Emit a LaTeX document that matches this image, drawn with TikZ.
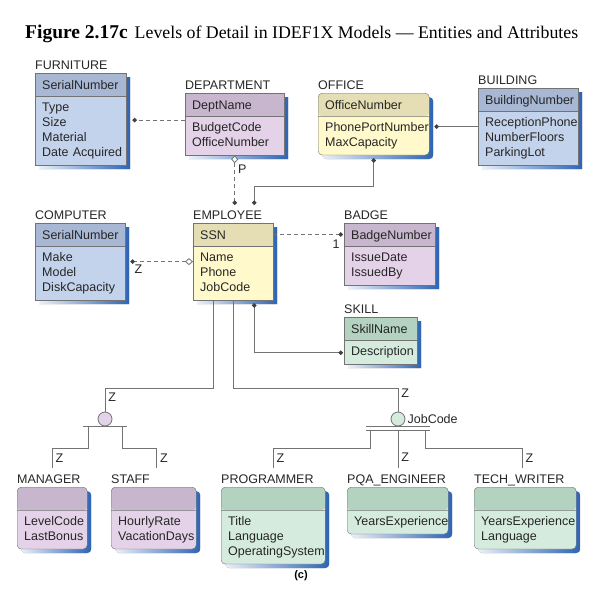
\documentclass[tikz,border=0pt]{standalone}
\usepackage{fontspec}
\setmainfont{Liberation Serif}
\setsansfont{Liberation Sans}
\usetikzlibrary{shapes.multipart,shadows,arrows.meta,positioning,calc}

\definecolor{bluekey}{RGB}{168,184,212}
\definecolor{bluebody}{RGB}{196,211,236}
\definecolor{purpkey}{RGB}{200,182,206}
\definecolor{purpbody}{RGB}{228,210,232}
\definecolor{yelkey}{RGB}{229,222,180}
\definecolor{yelbody}{RGB}{255,249,204}
\definecolor{grnkey}{RGB}{180,210,192}
\definecolor{grnbody}{RGB}{212,235,222}
\definecolor{shadeblue}{RGB}{45,100,180}
\definecolor{linegray}{RGB}{115,115,115}

\newcommand{\erfont}{\sffamily\fontsize{12.5}{15}\selectfont}
\newcommand{\keystrut}{\rule[-2.5pt]{0pt}{15pt}}

\tikzset{
  entity/.style 2 args={rectangle split, rectangle split parts=2, draw=linegray, fill=#2,
    path picture={\fill[#1] (path picture bounding box.north west) rectangle ([yshift=-23pt]path picture bounding box.north east);},
    drop shadow={shadow xshift=4pt, shadow yshift=-4pt, left color=shadeblue!10, right color=shadeblue, opacity=1},
    anchor=north west, inner xsep=7pt, inner ysep=4pt, align=left, font=\erfont, text=black!85},
  blueent/.style={entity={bluekey}{bluebody}},
  purpent/.style={entity={purpkey}{purpbody}},
  yelent/.style={entity={yelkey}{yelbody}},
  grnent/.style={entity={grnkey}{grnbody}},
  dependent/.style={rounded corners=4pt},
  entname/.style={anchor=base west, inner sep=0pt, font=\erfont, text=black!85},
  rel/.style={draw=linegray, line width=0.8pt},
  nonident/.style={rel, dash pattern=on 4pt off 3pt},
  reldot/.tip={Circle[length=4.5pt,color=black!75]},
  hollow/.tip={Diamond[fill=white,length=8pt,width=7pt]},
  zlbl/.style={font=\erfont, text=black!85, inner sep=3pt},
  catsym/.style={circle, draw=linegray, line width=0.8pt, minimum size=14pt, inner sep=0pt}
}

\begin{document}
\begin{tikzpicture}[x=1pt,y=1pt]
\useasboundingbox (0,0) rectangle (603,-600);

\node[anchor=base west, inner sep=0pt] (title) at (25,-38)
  {\fontsize{19.5}{22}\selectfont\bfseries Figure 2.17c\hspace{7pt}\fontsize{17.8}{20}\selectfont\mdseries Levels of Detail in IDEF1X Models --- Entities and Attributes};

% entities
\node[blueent, text width=77pt] (furniture) at (35,-73)
  {\keystrut SerialNumber\nodepart{two}\strut Type\\\strut Size\\\strut Material\\\strut\mbox{Date Acquired}};
\node[entname] (furniturename) at ([yshift=4pt]furniture.north west) {FURNITURE};

\node[purpent, text width=85pt] (department) at (185,-93)
  {\keystrut DeptName\nodepart{two}\strut BudgetCode\\\strut OfficeNumber};
\node[entname] (departmentname) at ([yshift=4pt]department.north west) {DEPARTMENT};

\node[yelent, dependent, text width=97pt] (office) at (318,-93)
  {\keystrut OfficeNumber\nodepart{two}\strut PhonePortNumber\\\strut MaxCapacity};
\node[entname] (officename) at ([yshift=4pt]office.north west) {OFFICE};

\node[blueent, text width=86pt] (building) at (478,-88)
  {\keystrut BuildingNumber\nodepart{two}\strut ReceptionPhone\\\strut NumberFloors\\\strut ParkingLot};
\node[entname] (buildingname) at ([yshift=4pt]building.north west) {BUILDING};

\node[blueent, text width=76pt] (computer) at (35,-223)
  {\keystrut SerialNumber\nodepart{two}\strut Make\\\strut Model\\\strut DiskCapacity};
\node[entname] (computername) at ([yshift=4pt]computer.north west) {COMPUTER};

\node[yelent, text width=66pt] (employee) at (193,-223)
  {\keystrut SSN\nodepart{two}\strut Name\\\strut Phone\\\strut JobCode};
\node[entname] (employeename) at ([yshift=4pt]employee.north west) {EMPLOYEE};

\node[purpent, text width=77pt] (badge) at (344,-223)
  {\keystrut BadgeNumber\nodepart{two}\strut IssueDate\\\strut IssuedBy};
\node[entname] (badgename) at ([yshift=4pt]badge.north west) {BADGE};

\node[grnent, text width=59pt] (skill) at (344,-317)
  {\keystrut SkillName\nodepart{two}\strut Description};
\node[entname] (skillname) at ([yshift=4pt]skill.north west) {SKILL};

\node[purpent, dependent, text width=56pt] (manager) at (17,-487)
  {\keystrut\nodepart{two}\strut LevelCode\\\strut LastBonus};
\node[entname] (managername) at ([yshift=4pt]manager.north west) {MANAGER};

\node[purpent, dependent, text width=71pt] (staff) at (111,-487)
  {\keystrut\nodepart{two}\strut HourlyRate\\\strut VacationDays};
\node[entname] (staffname) at ([yshift=4pt]staff.north west) {STAFF};

\node[grnent, dependent, text width=90pt] (programmer) at (221,-487)
  {\keystrut\nodepart{two}\strut Title\\\strut Language\\\strut OperatingSystem};
\node[entname] (programmername) at ([yshift=4pt]programmer.north west) {PROGRAMMER};

\node[grnent, dependent, text width=87pt] (pqa) at (347,-487)
  {\keystrut\nodepart{two}\strut YearsExperience};
\node[entname] (pqaname) at ([yshift=4pt]pqa.north west) {PQA\_ENGINEER};

\node[grnent, dependent, text width=88pt] (techwriter) at (474,-487)
  {\keystrut\nodepart{two}\strut YearsExperience\\\strut Language};
\node[entname] (techwritername) at ([yshift=4pt]techwriter.north west) {TECH\_WRITER};

% relationships
\draw[nonident, -{reldot}] ([yshift=4pt]department.west) -- ($(department.west -| furniture.east)+(6pt,4pt)$);
\draw[rel, -{reldot}] (building.west) -- ($(building.west -| office.east)+(5pt,0)$);
\draw[nonident, {hollow}-{reldot}] (department.south) -- ($(department.south |- employee.north)+(0,18pt)$)
  node[zlbl, pos=0.28, right] (p) {P};
\draw[rel, {reldot}-{reldot}] ($(office.south)+(0,-3pt)$) -- ++(0,-28pt) -| ($(employee.north)+(21pt,18pt)$);
\draw[nonident, {hollow}-{reldot}] (employee.west) -- ($(employee.west -| computer.east)+(5pt,0)$)
  node[zlbl, pos=0.87, below] (zcomp) {Z};
\draw[nonident, -{reldot}] ($(employee.north east)+(0,-11.5pt)$) -- ($(badge.north west)+(-1pt,-11.5pt)$)
  node[zlbl, pos=1, below left=2pt and 0pt] (one) {1};
\draw[rel, {reldot}-{reldot}] ($(employee.south)+(21pt,-3pt)$) |- ($(skill.south west)+(-1pt,11.5pt)$);

% categories
\node[catsym, fill=purpbody] (mgrcat) at (105,-419) {};
\node[catsym, fill=grnbody] (jobcat) at (398,-419) {};
\node[zlbl, right=1pt of jobcat, inner sep=1pt] (jobcode) {JobCode};

\draw[rel] ($(employee.south)+(-20pt,0)$) -- ++(0,-88pt) -| (mgrcat) node[zlbl, pos=0.7, right] (zmgr) {Z};
\draw[rel] (employee.south) -- ++(0,-88pt) -| (jobcat) node[zlbl, pos=0.6, right] (zjob) {Z};

\draw[rel] ($(mgrcat.south)+(-22pt,0)$) -- ($(mgrcat.south)+(22pt,0)$);
\draw[rel] ($(jobcat.south)+(-32pt,0)$) -- ($(jobcat.south)+(32pt,0)$);
\draw[rel] ($(jobcat.south)+(-32pt,-4pt)$) -- ($(jobcat.south)+(32pt,-4pt)$);

\draw[rel] ($(mgrcat.south)+(-17pt,0)$) -- ++(0,-22pt) -| ($(manager.north)+(0,19pt)$) node[zlbl, pos=0.75, right] (zmanager) {Z};
\draw[rel] ($(mgrcat.south)+(17pt,0)$) -- ++(0,-22pt) -| ($(staff.north)+(3pt,19pt)$) node[zlbl, pos=0.75, right] (zstaff) {Z};
\draw[rel] ($(jobcat.south)+(-28pt,-4pt)$) -- ++(0,-18pt) -| ($(programmer.north)+(0,19pt)$) node[zlbl, pos=0.75, right] (zprog) {Z};
\draw[rel] ($(jobcat.south)+(0,-4pt)$) -- ($(jobcat.south |- pqa.north)+(0,19pt)$) node[zlbl, pos=0.72, right] (zpqa) {Z};
\draw[rel] ($(jobcat.south)+(27pt,-4pt)$) -- ++(0,-18pt) -| ($(techwriter.north)+(-3pt,19pt)$) node[zlbl, pos=0.75, right] (ztech) {Z};

\node[font=\sffamily\bfseries\fontsize{11}{13}\selectfont] (caption) at (301,-576) {(c)};
\end{tikzpicture}
\end{document}
